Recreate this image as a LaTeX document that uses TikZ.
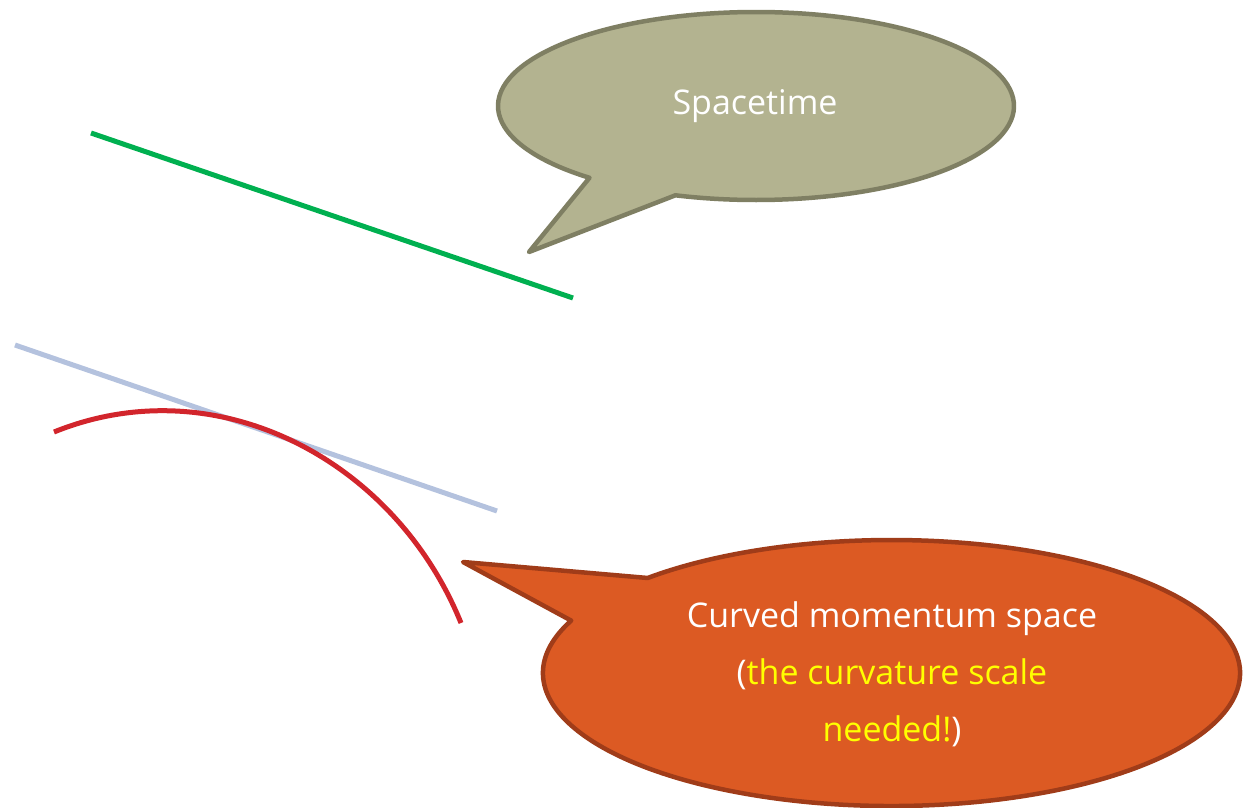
\documentclass[tikz,border=0pt]{standalone}
\usepackage{fontspec}
\setmainfont{Open Sans}
\usetikzlibrary{calc}
\definecolor{lineGreen}{HTML}{00B050}
\definecolor{lineBlue}{HTML}{B4C2DE}
\definecolor{arcRed}{HTML}{D2252C}
\definecolor{oliveFill}{HTML}{B3B390}
\definecolor{oliveEdge}{HTML}{7F7F63}
\definecolor{orangeFill}{HTML}{DC5A23}
\definecolor{orangeEdge}{HTML}{A03C19}
\definecolor{noteYellow}{HTML}{FFFF00}
\tikzset{
  ray/.style={line width=5pt},
  bubble/.style={line width=4.5pt, line join=round},
  label/.style={text=white, font=\fontsize{34}{57}\selectfont, align=center, inner sep=0pt}
}
\begin{document}
\begin{tikzpicture}[x=1pt, y=-1pt]
  \useasboundingbox (0,0) rectangle (1247,808);

  % straight worldlines
  \coordinate (g1) at (91,133);
  \coordinate (g2) at (573,298);
  \draw[ray, lineGreen] (g1) -- (g2);
  \coordinate (b1) at (15,345);
  \coordinate (b2) at (497,511);
  \draw[ray, lineBlue] (b1) -- (b2);

  % curved path
  \coordinate (r1) at (54,432);
  \coordinate (r2) at (461,623);
  \draw[ray, arcRed] (r1) .. controls (217,366) and (395,460) .. (r2);

  % upper speech bubble
  \coordinate (oTip) at (529,252);
  \draw[bubble, draw=oliveEdge, fill=oliveFill]
    ($(756,106)+(108.2:258 and 94)$) -- (oTip) -- ($(756,106)+(130.2:258 and 94)$)
    arc[start angle=130.2, end angle=468.2, x radius=258, y radius=94] -- cycle;
  \node[label] (spacetime) at (755,106) {Spacetime};

  % lower speech bubble
  \coordinate (rTip) at (463,562);
  \draw[bubble, draw=orangeEdge, fill=orangeFill]
    ($(891.5,673)+(225.6:348.5 and 133)$) -- (rTip) -- ($(891.5,673)+(203.2:348.5 and 133)$)
    arc[start angle=203.2, end angle=-134.4, x radius=348.5, y radius=133] -- cycle;
  \node[label] (momentum) at (892,674)
    {Curved momentum space\\({\color{noteYellow}the curvature scale}\\{\color{noteYellow}needed!})};
\end{tikzpicture}
\end{document}
